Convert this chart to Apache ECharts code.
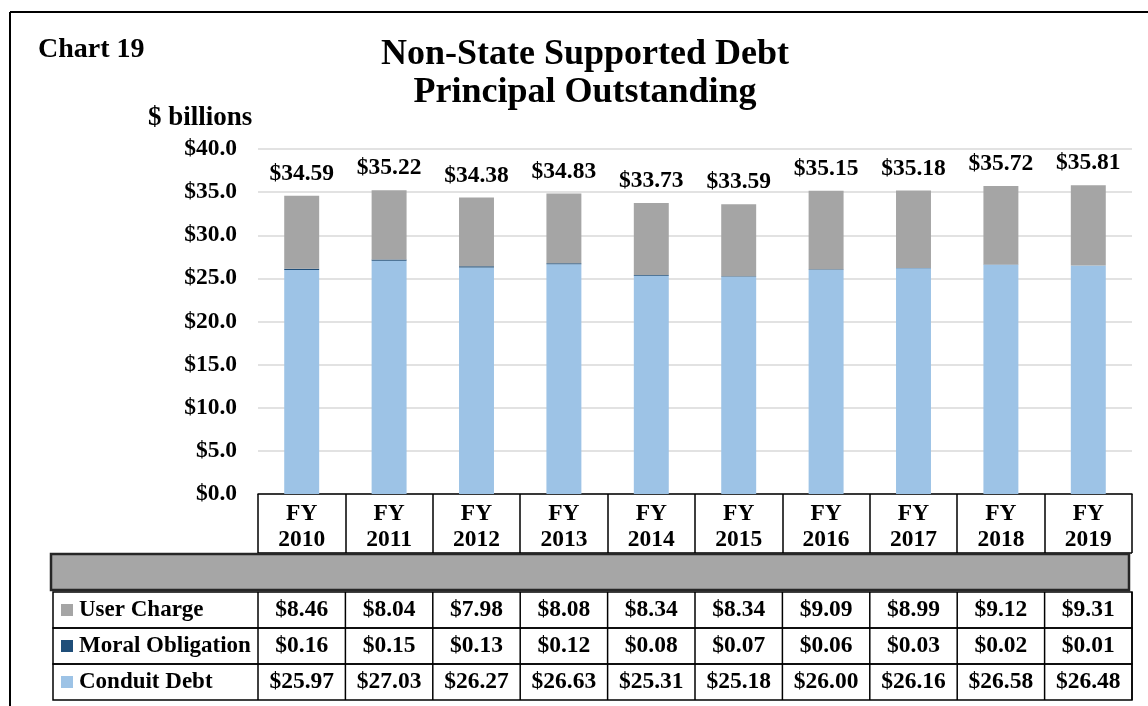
<!DOCTYPE html>
<html>
<head>
<meta charset="utf-8">
<script src="https://cdn.jsdelivr.net/npm/echarts@6/dist/echarts.min.js"></script>
<style>
  html, body { margin: 0; padding: 0; background: #fff; }
  #main { width: 1148px; height: 706px; }
</style>
</head>
<body>
<div id="main"></div>
<script>
// data
var years = ['2010', '2011', '2012', '2013', '2014', '2015', '2016', '2017', '2018', '2019'];
var userCharge = [8.46, 8.04, 7.98, 8.08, 8.34, 8.34, 9.09, 8.99, 9.12, 9.31];
var moralObligation = [0.16, 0.15, 0.13, 0.12, 0.08, 0.07, 0.06, 0.03, 0.02, 0.01];
var conduitDebt = [25.97, 27.03, 26.27, 26.63, 25.31, 25.18, 26.00, 26.16, 26.58, 26.48];
var totals = [34.59, 35.22, 34.38, 34.83, 33.73, 33.59, 35.15, 35.18, 35.72, 35.81];

var colors = { user: '#A5A5A5', moral: '#1F4E79', conduit: '#9DC3E6' };
var font = '"Liberation Serif", "Times New Roman", serif';
var fs = 23.5;

var myChart = echarts.init(document.getElementById('main'));

var option = {
    animation: false,
    textStyle: { fontFamily: font },
    grid: { left: 258, right: 16, top: 149, bottom: 212 },
    xAxis: {
        type: 'category',
        data: years,
        axisLine: { show: true, lineStyle: { color: '#000', width: 1.5 } },
        axisTick: { show: true, interval: 0, length: 59, lineStyle: { color: '#000', width: 1.5 } },
        axisLabel: {
            interval: 0,
            margin: 7,
            color: '#000',
            fontWeight: 'bold',
            fontSize: fs,
            lineHeight: 26,
            fontFamily: font,
            formatter: function (v) { return 'FY\n' + v; }
        }
    },
    yAxis: {
        type: 'value',
        min: 0,
        max: 40,
        interval: 5,
        axisLine: { show: false },
        axisTick: { show: false },
        splitLine: { lineStyle: { color: '#d9d9d9', width: 1.5 } },
        axisLabel: {
            margin: 21,
            color: '#000',
            fontWeight: 'bold',
            fontSize: fs,
            fontFamily: font,
            formatter: function (v) { return '$' + v.toFixed(1); }
        }
    },
    series: [{
            name: 'Conduit Debt',
            type: 'bar',
            stack: 'total',
            barWidth: '40%',
            itemStyle: { color: colors.conduit },
            data: conduitDebt
        },
        {
            name: 'Moral Obligation',
            type: 'bar',
            stack: 'total',
            itemStyle: { color: colors.moral },
            data: moralObligation
        },
        {
            name: 'User Charge',
            type: 'bar',
            stack: 'total',
            itemStyle: { color: colors.user },
            label: {
                show: true,
                position: 'top',
                distance: 10,
                color: '#000',
                fontWeight: 'bold',
                fontSize: fs,
                fontFamily: font,
                formatter: function (p) { return '$' + totals[p.dataIndex].toFixed(2); }
            },
            data: userCharge
        }
    ]
};
myChart.setOption(option);

// data table below the axis, aligned to the category columns
function buildTable() {
    var c0 = myChart.convertToPixel({ xAxisIndex: 0 }, 0);
    var c1 = myChart.convertToPixel({ xAxisIndex: 0 }, 1);
    var band = c1 - c0;
    var x0 = c0 - band / 2;
    var x1 = x0 + band * years.length;
    var axisY = myChart.convertToPixel({ yAxisIndex: 0 }, 0);
    var headBottom = axisY + 59;
    var rowTop = headBottom + 39;
    var rowH = 36;
    var labelLeft = 53;
    var bold = { fontFamily: font, fontWeight: 'bold', fontSize: fs, fill: '#000' };

    var rows = [
        { name: 'User Charge', color: colors.user, values: userCharge },
        { name: 'Moral Obligation', color: colors.moral, values: moralObligation },
        { name: 'Conduit Debt', color: colors.conduit, values: conduitDebt }
    ];

    var els = [];
    // outer frame (top and left edges)
    els.push({ type: 'line', shape: { x1: 10, y1: 12, x2: 1148, y2: 12 }, style: { stroke: '#000', lineWidth: 2 } });
    els.push({ type: 'line', shape: { x1: 10, y1: 12, x2: 10, y2: 706 }, style: { stroke: '#000', lineWidth: 2 } });
    // titles
    els.push({ type: 'text', x: 585, y: 55, style: { text: 'Non-State Supported Debt', align: 'center', verticalAlign: 'middle', fontFamily: font, fontWeight: 'bold', fontSize: 36, fill: '#000' } });
    els.push({ type: 'text', x: 585, y: 93, style: { text: 'Principal Outstanding', align: 'center', verticalAlign: 'middle', fontFamily: font, fontWeight: 'bold', fontSize: 36, fill: '#000' } });
    els.push({ type: 'text', x: 38, y: 50, style: { text: 'Chart 19', verticalAlign: 'middle', fontFamily: font, fontWeight: 'bold', fontSize: 28, fill: '#000' } });
    els.push({ type: 'text', x: 148, y: 118, style: { text: '$ billions', verticalAlign: 'middle', fontFamily: font, fontWeight: 'bold', fontSize: 27, fill: '#000' } });
    // header bottom
    els.push({ type: 'line', shape: { x1: x0, y1: headBottom, x2: x1, y2: headBottom }, style: { stroke: '#000', lineWidth: 1.5 } });
    // grey band
    els.push({ type: 'rect', shape: { x: 51, y: headBottom + 1, width: x1 - 3 - 51, height: 36 }, style: { fill: '#A6A6A6', stroke: '#262626', lineWidth: 2.5 } });

    rows.forEach(function (r, ri) {
        var top = rowTop + ri * rowH;
        els.push({ type: 'rect', shape: { x: labelLeft, y: top, width: x1 - labelLeft, height: rowH }, style: { fill: 'none', stroke: '#000', lineWidth: 1.5 } });
        els.push({ type: 'rect', shape: { x: 61, y: top + 12, width: 12, height: 12 }, style: { fill: r.color } });
        els.push({ type: 'text', x: 79, y: top + rowH / 2, style: Object.assign({ text: r.name, verticalAlign: 'middle' }, bold, { fontSize: 23 }) });
        for (var i = 0; i <= years.length; i++) {
            els.push({ type: 'line', shape: { x1: x0 + band * i, y1: top, x2: x0 + band * i, y2: top + rowH }, style: { stroke: '#000', lineWidth: 1.5 } });
        }
        r.values.forEach(function (v, i) {
            var cx = myChart.convertToPixel({ xAxisIndex: 0 }, i);
            els.push({ type: 'text', x: cx, y: top + rowH / 2, style: Object.assign({ text: '$' + v.toFixed(2), align: 'center', verticalAlign: 'middle' }, bold) });
        });
    });

    myChart.setOption({ graphic: { elements: els } });
}
buildTable();
</script>
</body>
</html>
